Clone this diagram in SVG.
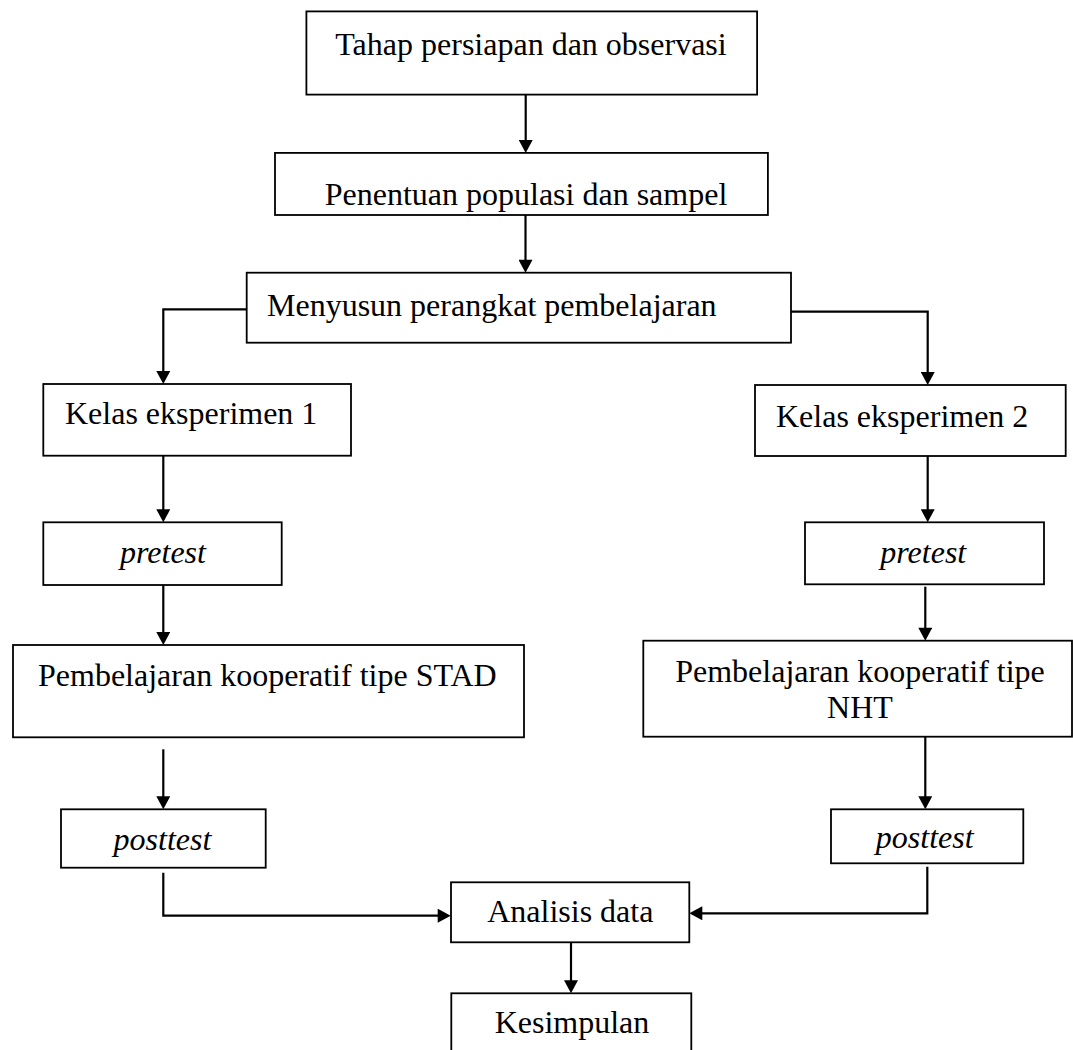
<svg xmlns="http://www.w3.org/2000/svg" width="1073" height="1050" viewBox="0 0 1073 1050">
<style>
  .box { fill: #ffffff; stroke: #000000; stroke-width: 1.8; }
  .t { font-family: "Liberation Serif", "Times New Roman", serif; font-size: 32px; fill: #000000; }
  .i { font-style: italic; }
  .c { text-anchor: middle; }
  .edge { fill: none; stroke: #000000; stroke-width: 2.2; }
</style>
<defs>
  <marker id="ah" markerUnits="userSpaceOnUse" markerWidth="14" markerHeight="14" viewBox="0 0 13 14" refX="10" refY="7" orient="auto">
    <path d="M0,0 L13,7 L0,14 Z" fill="#000000"/>
  </marker>
</defs>
<rect width="1073" height="1050" fill="#ffffff"/>

<g id="connectors">
  <path class="edge" d="M525.7,94.6 V149.9" marker-end="url(#ah)"/>
  <path class="edge" d="M525.5,215 V269.7" marker-end="url(#ah)"/>
  <path class="edge" d="M246.7,309.3 H163.3 V381" marker-end="url(#ah)"/>
  <path class="edge" d="M791,311.7 H927.7 V382" marker-end="url(#ah)"/>
  <path class="edge" d="M163.3,455.7 V519.3" marker-end="url(#ah)"/>
  <path class="edge" d="M927.7,450.7 V519.3" marker-end="url(#ah)"/>
  <path class="edge" d="M163.3,585 V642" marker-end="url(#ah)"/>
  <path class="edge" d="M925.3,586.7 V637.7" marker-end="url(#ah)"/>
  <path class="edge" d="M163.3,749.3 V806.3" marker-end="url(#ah)"/>
  <path class="edge" d="M925.3,732.3 V806.3" marker-end="url(#ah)"/>
  <path class="edge" d="M163.3,872.7 V915.7 H447.7" marker-end="url(#ah)"/>
  <path class="edge" d="M927.3,866.7 V913.3 H692.3" marker-end="url(#ah)"/>
  <path class="edge" d="M571,942.3 V990.3" marker-end="url(#ah)"/>
</g>

<g id="node-tahap">
  <rect class="box" x="306.4" y="11.4" width="450.7" height="83.2"/>
  <text class="t c" x="531" y="54.5">Tahap persiapan dan observasi</text>
</g>
<g id="node-penentuan">
  <rect class="box" x="275" y="152.9" width="492.9" height="62.1"/>
  <text class="t c" x="526" y="205">Penentuan populasi dan sampel</text>
</g>
<g id="node-menyusun">
  <rect class="box" x="246.7" y="272.7" width="544.3" height="70"/>
  <text class="t" x="267" y="316">Menyusun perangkat pembelajaran</text>
</g>
<g id="node-kelas1">
  <rect class="box" x="43.3" y="384" width="307.7" height="71.7"/>
  <text class="t" x="65" y="424">Kelas eksperimen 1</text>
</g>
<g id="node-kelas2">
  <rect class="box" x="755" y="385" width="310.7" height="71"/>
  <text class="t" x="776" y="427">Kelas eksperimen 2</text>
</g>
<g id="node-pretest1">
  <rect class="box" x="43.3" y="522.3" width="238.4" height="62.7"/>
  <text class="t i c" x="163" y="563.3">pretest</text>
</g>
<g id="node-pretest2">
  <rect class="box" x="805" y="522.3" width="239" height="62"/>
  <text class="t i c" x="923.3" y="563.3">pretest</text>
</g>
<g id="node-stad">
  <rect class="box" x="13" y="645" width="511" height="92.3"/>
  <text class="t" x="38" y="686">Pembelajaran kooperatif tipe STAD</text>
</g>
<g id="node-nht">
  <rect class="box" x="643.3" y="640.7" width="428.7" height="96"/>
  <text class="t c" x="860" y="681.7">Pembelajaran kooperatif tipe</text>
  <text class="t c" x="860" y="718.3">NHT</text>
</g>
<g id="node-posttest1">
  <rect class="box" x="61" y="809.3" width="204.7" height="58.4"/>
  <text class="t i c" x="162.5" y="850">posttest</text>
</g>
<g id="node-posttest2">
  <rect class="box" x="831" y="809.3" width="192.3" height="54"/>
  <text class="t i c" x="924.7" y="848.3">posttest</text>
</g>
<g id="node-analisis">
  <rect class="box" x="451" y="882.3" width="238.3" height="60"/>
  <text class="t c" x="570.3" y="921.7">Analisis data</text>
</g>
<g id="node-kesimpulan">
  <rect class="box" x="451.3" y="993.3" width="240" height="70"/>
  <text class="t c" x="572" y="1032.5">Kesimpulan</text>
</g>
</svg>
